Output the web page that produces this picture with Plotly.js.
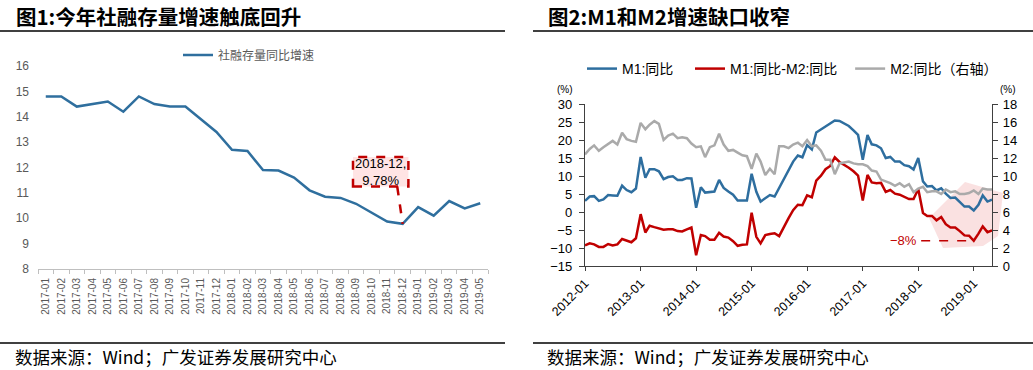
<!DOCTYPE html>
<html>
<head>
<meta charset="utf-8">
<script src="https://cdn.plot.ly/plotly-3.0.1.min.js"></script>
<style>body{margin:0;padding:0;background:#fff;} #chart{width:1033px;height:370px;}</style>
</head>
<body>
<div id="chart"></div>
<script>
// ---- Figure 1 data ----
const tsfMonths = ["2017-01","2017-02","2017-03","2017-04","2017-05","2017-06","2017-07","2017-08","2017-09","2017-10","2017-11","2017-12",
  "2018-01","2018-02","2018-03","2018-04","2018-05","2018-06","2018-07","2018-08","2018-09","2018-10","2018-11","2018-12",
  "2019-01","2019-02","2019-03","2019-04","2019-05"];
const tsfGrowth = [14.8,14.8,14.4,14.5,14.6,14.2,14.8,14.5,14.4,14.4,13.9,13.4,
  12.7,12.65,11.9,11.88,11.6,11.1,10.85,10.8,10.57,10.22,9.87,9.78,
  10.44,10.1,10.68,10.39,10.59];
const tsfLabel = "社融存量同比增速";
const lowPointMonth = "2018-12";
const lowPointValue = 9.78;

// ---- Figure 2 data ----
const mMonths = [];
for (let y = 2012; y <= 2019; y++) {
  for (let m = 1; m <= 12; m++) {
    if (y === 2019 && m > 5) break;
    mMonths.push(y + "-" + (m < 10 ? "0" + m : m) + "-01");
  }
}
const m1Yoy = [3.1,4.3,4.4,3.1,3.5,4.7,4.6,4.5,7.3,6.1,5.5,6.5,
  15.3,9.5,11.9,11.9,11.3,9.1,9.7,9.9,8.9,8.9,9.4,9.3,
  1.2,6.9,5.4,5.5,5.7,8.9,6.7,5.7,4.8,3.2,3.2,3.2,
  10.6,5.6,2.9,3.7,4.7,4.3,6.6,9.3,11.4,14.0,15.7,15.2,
  18.6,17.4,22.1,22.9,23.7,24.6,25.4,25.3,24.7,23.9,22.7,21.4,
  14.5,21.4,18.8,18.5,17.7,15.0,15.3,14.0,14.0,13.0,12.7,11.8,
  15.0,8.5,7.1,7.2,6.0,6.6,5.1,3.9,4.0,2.7,1.5,1.5,
  0.4,2.0,4.6,2.9,3.4];
const m2Yoy = [12.4,13.0,13.4,12.8,13.2,13.6,13.9,13.5,14.8,14.1,13.9,13.8,
  15.9,15.2,15.7,16.1,15.8,14.0,14.5,14.7,14.2,14.3,14.2,13.6,
  13.2,13.3,12.1,13.2,13.4,14.7,13.5,12.8,12.9,12.6,12.3,12.2,
  10.8,12.5,11.6,10.1,10.8,10.2,13.3,13.3,13.1,13.5,13.7,13.3,
  14.0,13.3,13.4,12.8,11.8,11.8,10.2,11.4,11.5,11.6,11.4,11.3,
  11.3,11.1,10.6,10.5,9.6,9.4,9.2,8.9,9.2,8.8,9.1,8.2,
  8.6,8.8,8.2,8.3,8.3,8.0,8.5,8.2,8.3,8.0,8.0,8.1,
  8.4,8.0,8.6,8.5,8.5];
const m1m2Gap = [-9.3,-8.7,-9.0,-9.7,-9.7,-8.9,-9.3,-9.0,-7.5,-8.0,-8.4,-7.3,
  -0.6,-5.7,-3.8,-4.2,-4.5,-4.9,-4.8,-4.8,-5.3,-5.4,-4.8,-4.3,
  -12.0,-6.4,-6.7,-7.7,-7.7,-5.8,-6.8,-7.1,-8.1,-9.4,-9.1,-9.0,
  -0.2,-6.9,-8.7,-6.4,-6.1,-5.9,-6.7,-4.0,-1.7,0.5,2.0,1.9,
  4.6,4.1,8.7,10.1,11.9,12.8,15.2,13.9,13.2,12.3,11.3,10.1,
  3.2,10.3,8.2,8.0,8.1,5.6,6.1,5.1,4.8,4.2,3.6,3.6,
  6.4,-0.3,-1.1,-1.1,-2.3,-1.4,-3.4,-4.3,-4.3,-5.3,-6.5,-6.6,
  -8.0,-6.0,-4.0,-5.6,-5.1];
const seriesNames = ["M1:同比\u00a0\u00a0\u00a0", "M1:同比-M2:同比\u00a0\u00a0", "M2:同比（右轴）"];

const W = 1033, H = 370;
const px = v => v / W;
const py = v => 1 - v / H;

const cjk = "'Noto Sans CJK SC', 'Liberation Sans', Arial, sans-serif";
const latin = "'Liberation Sans', Arial, 'Noto Sans CJK SC', sans-serif";
const blue = "#2E6E9F", red = "#C00000", gray = "#AAAAAA";

const traces = [
  {x: tsfMonths, y: tsfGrowth, type: "scatter", mode: "lines", name: tsfLabel,
   line: {color: "#2F6F9E", width: 2.5}, xaxis: "x", yaxis: "y", legend: "legend"},
  {x: mMonths, y: m2Yoy, type: "scatter", mode: "lines", name: seriesNames[2], legendrank: 3,
   line: {color: gray, width: 2.5}, xaxis: "x2", yaxis: "y3", legend: "legend2"},
  {x: mMonths, y: m1Yoy, type: "scatter", mode: "lines", name: seriesNames[0], legendrank: 1,
   line: {color: blue, width: 2.5}, xaxis: "x2", yaxis: "y2", legend: "legend2"},
  {x: mMonths, y: m1m2Gap, type: "scatter", mode: "lines", name: seriesNames[1], legendrank: 2,
   line: {color: red, width: 2.5}, xaxis: "x2", yaxis: "y2", legend: "legend2"}
];

const layout = {
  width: W, height: H, autosize: false,
  margin: {l: 0, r: 0, t: 0, b: 0, pad: 0},
  paper_bgcolor: "#fff", plot_bgcolor: "rgba(0,0,0,0)",
  font: {family: latin, color: "#000"},
  showlegend: true,
  legend: {orientation: "h", x: px(178), y: py(55), xanchor: "left", yanchor: "middle",
    font: {family: cjk, size: 12, color: "#595959"}, bgcolor: "rgba(0,0,0,0)"},
  legend2: {orientation: "h", x: px(582), y: py(69), xanchor: "left", yanchor: "middle",
    font: {family: latin, size: 14, color: "#000"}, bgcolor: "rgba(0,0,0,0)", itemwidth: 30},
  xaxis: {domain: [px(38), px(488)], anchor: "y", type: "category", range: [-0.5, 28.5],
    showline: true, linecolor: "#BFBFBF", linewidth: 1, ticks: "outside", tickson: "boundaries",
    ticklen: 4, tickcolor: "#BFBFBF", tickangle: -90, showgrid: false, zeroline: false, ticklabelstandoff: 4,
    tickfont: {size: 10, color: "#595959", family: latin}, fixedrange: true},
  yaxis: {domain: [py(269), py(66)], anchor: "x", range: [8, 16], dtick: 1, tick0: 8,
    showline: false, ticks: "", showgrid: false, zeroline: false, ticklabelstandoff: 8,
    tickfont: {size: 12, color: "#595959", family: latin}, fixedrange: true},
  xaxis2: {domain: [px(585), px(992)], anchor: "y2", type: "date",
    range: ["2012-01-01", "2019-05-01"], tick0: "2012-01-01", dtick: "M12", tickformat: "%Y-%m",
    showline: true, linecolor: "#404040", linewidth: 1.2, ticks: "outside", ticklen: 4,
    tickcolor: "#404040", tickangle: -45, showgrid: false, zeroline: false,
    tickfont: {size: 12.5, color: "#000", family: latin}, fixedrange: true},
  yaxis2: {domain: [py(266), py(104)], anchor: "x2", range: [-15, 30], dtick: 5, tick0: -15,
    showline: true, linecolor: "#404040", linewidth: 1.2, ticks: "outside", ticklen: 5,
    tickcolor: "#404040", showgrid: false, zeroline: false, ticklabelstandoff: 4,
    tickfont: {size: 13, color: "#000", family: latin}, fixedrange: true},
  yaxis3: {overlaying: "y2", side: "right", anchor: "x2", range: [0, 18], dtick: 2, tick0: 0,
    showline: true, linecolor: "#404040", linewidth: 1.2, ticks: "outside", ticklen: 5,
    tickcolor: "#404040", showgrid: false, zeroline: false, ticklabelstandoff: 2,
    tickfont: {size: 13, color: "#000", family: latin}, fixedrange: true},
  shapes: [
    {type: "line", xref: "paper", yref: "paper", x0: 0, x1: px(505), y0: py(31), y1: py(31), line: {color: "#000", width: 1.5}},
    {type: "line", xref: "paper", yref: "paper", x0: px(533), x1: 1, y0: py(31), y1: py(31), line: {color: "#000", width: 1.5}},
    {type: "line", xref: "paper", yref: "paper", x0: 0, x1: px(505), y0: py(343), y1: py(343), line: {color: "#000", width: 1.5}},
    {type: "line", xref: "paper", yref: "paper", x0: px(533), x1: 1, y0: py(343), y1: py(343), line: {color: "#000", width: 1.5}},
    {type: "rect", xref: "x", yref: "y", x0: 19.8, x1: 23.37, y0: 11.25, y1: 12.41,
      fillcolor: "rgba(255,205,205,0.55)", line: {color: red, width: 2.5, dash: "dash"}, layer: "above"},
    {type: "line", xref: "x", yref: "y", x0: 22.65, y0: 11.25, x1: 23, y1: lowPointValue,
      line: {color: red, width: 2.5, dash: "dash"}},
    {type: "path", xref: "paper", yref: "paper", layer: "below",
      path: "M" + px(965) + "," + py(182) + " L" + px(1003) + "," + py(193) + " L" + px(998) + "," + py(236) +
            " L" + px(983) + "," + py(246) + " L" + px(943) + "," + py(248) + " L" + px(929) + "," + py(218) + " Z",
      fillcolor: "rgba(240,170,170,0.35)", line: {width: 0}},
    {type: "line", xref: "x2", yref: "y2", x0: "2018-01-20", x1: "2019-01-01", y0: -8, y1: -8,
      line: {color: red, width: 1.5, dash: "dash"}}
  ],
  annotations: [
    {xref: "paper", yref: "paper", x: px(14), y: py(16), xanchor: "left", yanchor: "middle", showarrow: false,
      text: "<b>图1:今年社融存量增速触底回升</b>", font: {family: cjk, size: 20.5, color: "#000"}},
    {xref: "paper", yref: "paper", x: px(546), y: py(16), xanchor: "left", yanchor: "middle", showarrow: false,
      text: "<b>图2:M1和M2增速缺口收窄</b>", font: {family: cjk, size: 20.5, color: "#000"}},
    {xref: "paper", yref: "paper", x: px(13), y: py(356), xanchor: "left", yanchor: "middle", showarrow: false,
      text: "数据来源：Wind；广发证券发展研究中心", font: {family: cjk, size: 17.5, color: "#000"}},
    {xref: "paper", yref: "paper", x: px(545), y: py(356), xanchor: "left", yanchor: "middle", showarrow: false,
      text: "数据来源：Wind；广发证券发展研究中心", font: {family: cjk, size: 17.5, color: "#000"}},
    {xref: "x", yref: "y", x: 21.6, y: 11.83, showarrow: false, xanchor: "center", yanchor: "middle",
      text: lowPointMonth + ",<br>" + lowPointValue + "%", font: {family: latin, size: 13, color: "#000"}},
    {xref: "paper", yref: "paper", x: px(565), y: py(89), showarrow: false, xanchor: "center", yanchor: "middle",
      text: "(%)", font: {family: latin, size: 10, color: "#000"}},
    {xref: "paper", yref: "paper", x: px(1008), y: py(89), showarrow: false, xanchor: "center", yanchor: "middle",
      text: "(%)", font: {family: latin, size: 10, color: "#000"}},
    {xref: "paper", yref: "paper", x: px(903), y: py(240), showarrow: false, xanchor: "center", yanchor: "middle",
      text: "\u22128%", font: {family: latin, size: 13, color: red}}
  ]
};

Plotly.newPlot("chart", traces, layout, {staticPlot: true, displayModeBar: false});
</script>
</body>
</html>
